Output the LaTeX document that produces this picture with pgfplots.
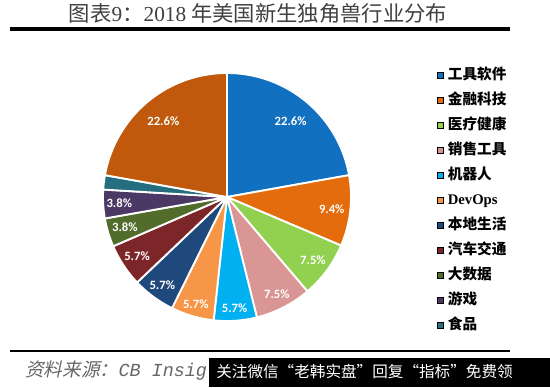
\documentclass[border=0pt]{standalone}
\usepackage{pgfplots}
\pgfplotsset{compat=1.18}
\usepackage{pgfplotstable}
\usepackage{fontspec}
\setmainfont{Liberation Serif}
\setmonofont{Liberation Mono}
\newfontfamily\cjk{Noto Sans CJK SC}
\newfontfamily\cjkit{Noto Sans CJK SC}[FakeSlant=0.22]
\newfontfamily\lblfont{Carlito}

\definecolor{cA}{RGB}{18,112,192}
\definecolor{cB}{RGB}{228,108,12}
\definecolor{cC}{RGB}{146,208,80}
\definecolor{cD}{RGB}{217,150,148}
\definecolor{cE}{RGB}{0,176,240}
\definecolor{cF}{RGB}{247,150,70}
\definecolor{cG}{RGB}{31,73,125}
\definecolor{cH}{RGB}{125,38,42}
\definecolor{cI}{RGB}{82,108,44}
\definecolor{cJ}{RGB}{76,56,100}
\definecolor{cK}{RGB}{36,110,128}
\definecolor{cL}{RGB}{192,89,12}

\pgfplotstableread{
val col lr lab
22.6 cA 0.80 1
9.4  cB 0.85 1
7.5  cC 0.86 1
7.5  cD 0.88 1
5.7  cE 0.90 1
5.7  cF 0.90 1
5.7  cG 0.88 1
5.7  cH 0.87 1
3.8  cI 0.86 1
3.8  cJ 0.87 1
1.9  cK 0.80 0
22.6 cL 0.80 1
}\piedata

\pgfmathsetmacro{\PStotal}{0}
\pgfplotsforeachungrouped \i in {0,...,11}{%
  \pgfplotstablegetelem{\i}{val}\of\piedata
  \pgfmathsetmacro{\PStotal}{\PStotal+\pgfplotsretval}%
}

\begin{document}
\begin{tikzpicture}[x=0.75pt,y=0.75pt,
  lbl/.style={text=white, font=\lblfont\bfseries\fontsize{9.5}{11}\selectfont, inner sep=0pt}]
\path[use as bounding box] (0,0) rectangle (550,387);

% title
\node[font=\cjk\fontsize{16}{18}\selectfont, text=black!75] at (258,374)
  {图表{\rmfamily 9}：{\rmfamily 2018} 年美国新生独角兽行业分布};
\draw[line width=3pt] (10,358.3) -- (510,358.3);
\draw[line width=2.2pt] (10,36) -- (510,36);

\begin{axis}[
  at={(77.25pt,49.5pt)}, anchor=south west,
  scale only axis, width=186pt, height=186pt,
  xmin=-1, xmax=1, ymin=-1, ymax=1,
  hide axis, clip=false,
  legend image code/.code={\fill[#1] (0pt,-2.2pt) rectangle (4.4pt,2.2pt);},
  legend cell align=left,
  legend style={at={(axis description cs:1.345,1.022)}, anchor=north west,
    draw=none, fill=none, inner sep=0pt, row sep=7.25pt,
    font=\cjk\bfseries\fontsize{11}{13}\selectfont,
    nodes={inner sep=0pt, text height=9pt, text depth=2.5pt},
    /tikz/every odd column/.append style={column sep=3.5pt}},
]
\pgfmathsetmacro{\PScum}{0}
\pgfplotsforeachungrouped \i in {0,...,11}{%
  \pgfplotstablegetelem{\i}{val}\of\piedata \let\PSv=\pgfplotsretval
  \pgfplotstablegetelem{\i}{col}\of\piedata \let\PScol=\pgfplotsretval
  \pgfplotstablegetelem{\i}{lr}\of\piedata \let\PSlr=\pgfplotsretval
  \pgfplotstablegetelem{\i}{lab}\of\piedata \let\PSlab=\pgfplotsretval
  \pgfmathsetmacro{\PSsa}{90-\PScum/\PStotal*360}%
  \pgfmathsetmacro{\PScum}{\PScum+\PSv}%
  \pgfmathsetmacro{\PSea}{90-\PScum/\PStotal*360}%
  \pgfmathsetmacro{\PSma}{(\PSsa+\PSea)/2}%
  \pgfmathsetmacro{\PSlx}{\PSlr*cos(\PSma)}%
  \pgfmathsetmacro{\PSly}{\PSlr*sin(\PSma)}%
  \edef\PScmd{\noexpand\addplot[fill=\PScol, draw=white, line width=1.4pt, line join=round, domain=\PSea:\PSsa, samples=60, forget plot] ({cos(x)},{sin(x)}) -- (axis cs:0,0) -- cycle;}%
  \PScmd
  \ifnum\PSlab=1
    \edef\PScmd{\noexpand\node[lbl] at (axis cs:\PSlx,\PSly) {\PSv\noexpand\%};}%
    \PScmd
  \fi
}
\addlegendimage{fill=cA}\addlegendentry{工具软件}
\addlegendimage{fill=cB}\addlegendentry{金融科技}
\addlegendimage{fill=cC}\addlegendentry{医疗健康}
\addlegendimage{fill=cD}\addlegendentry{销售工具}
\addlegendimage{fill=cE}\addlegendentry{机器人}
\addlegendimage{fill=cF}\addlegendentry{{\rmfamily\bfseries DevOps}}
\addlegendimage{fill=cG}\addlegendentry{本地生活}
\addlegendimage{fill=cH}\addlegendentry{汽车交通}
\addlegendimage{fill=cI}\addlegendentry{大数据}
\addlegendimage{fill=cJ}\addlegendentry{游戏}
\addlegendimage{fill=cK}\addlegendentry{食品}
\end{axis}

% source
\node[anchor=west, text=black!60, inner sep=0pt] at (25,16)
  {\cjkit\fontsize{14}{16}\selectfont 资料来源：\ttfamily\itshape\fontsize{13.8}{16}\selectfont CB Insig};
\fill[black] (209,0) rectangle (550,29);
\node[text=white, font=\cjk\fontsize{11.7}{14}\selectfont, inner sep=0pt] at (364.5,15.3)
  {关注微信“老韩实盘”回复“指标”免费领};
\end{tikzpicture}
\end{document}
